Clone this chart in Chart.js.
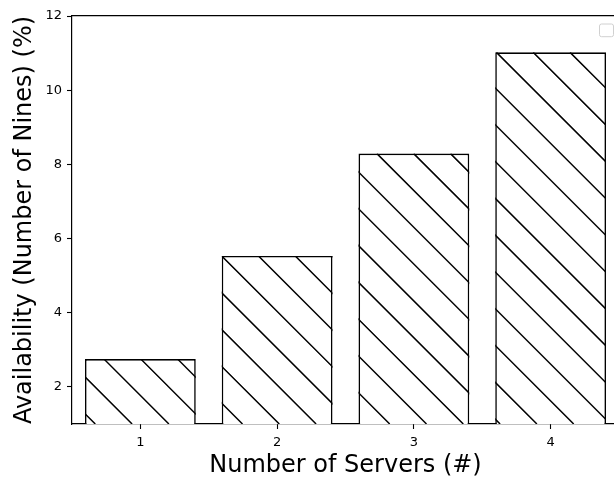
<!DOCTYPE html>
<html>
<head>
<meta charset="utf-8">
<script src="https://cdn.jsdelivr.net/npm/chart.js@4.4.1/dist/chart.umd.min.js"></script>
<style>
  html, body { margin: 0; padding: 0; background: #fff; overflow: hidden; }
  #wrap { width: 630px; height: 484px; }
</style>
</head>
<body>
<div id="wrap"><canvas id="chart" width="630" height="484"></canvas></div>
<script>
// chart data
const servers = ['1', '2', '3', '4'];
const nines = [2.75, 5.53, 8.29, 11.02];
const yTicks = [2, 4, 6, 8, 10, 12];
const xTitle = 'Number of Servers (#)';
const yTitle = 'Availability (Number of Nines) (%)';

const FONT = "'DejaVu Sans', sans-serif";

// draws the "\" hatch inside each bar
const hatchPlugin = {
    id: 'hatch',
    afterDatasetsDraw(chart) {
        const ctx = chart.ctx;
        const area = chart.chartArea;
        const step = 36.8;
        const shift = 2.5;
        chart.getDatasetMeta(0).data.forEach(bar => {
            const left = bar.x - bar.width / 2;
            const right = bar.x + bar.width / 2;
            const top = Math.max(bar.y, area.top);
            const bottom = Math.min(bar.base, area.bottom);
            ctx.save();
            ctx.beginPath();
            ctx.rect(left, top, right - left, bottom - top);
            ctx.clip();
            ctx.strokeStyle = '#000';
            ctx.lineWidth = 1.5;
            ctx.beginPath();
            // lines where x - y = c
            const cMin = left - bottom;
            const cMax = right - top;
            let c = Math.floor((cMin - shift) / step) * step + shift;
            for (; c <= cMax; c += step) {
                ctx.moveTo(top + c, top);
                ctx.lineTo(bottom + c, bottom);
            }
            ctx.stroke();
            ctx.restore();
        });
    }
};

// empty legend frame in the upper right corner
const emptyLegendPlugin = {
    id: 'emptyLegend',
    afterDraw(chart) {
        const ctx = chart.ctx;
        const area = chart.chartArea;
        const x = area.right - 19.5;
        const y = area.top + 8;
        ctx.save();
        ctx.beginPath();
        ctx.roundRect(x, y, 14, 12.7, 2);
        ctx.fillStyle = 'rgba(255,255,255,0.8)';
        ctx.fill();
        ctx.strokeStyle = '#d0d0d0';
        ctx.lineWidth = 1;
        ctx.stroke();
        ctx.restore();
    }
};

new Chart(document.getElementById('chart'), {
    type: 'bar',
    data: {
        labels: servers,
        datasets: [{
            data: nines,
            backgroundColor: '#fff',
            borderColor: '#000',
            borderWidth: 1.6,
            barPercentage: 0.81,
            categoryPercentage: 1
        }]
    },
    options: {
        responsive: false,
        devicePixelRatio: 1,
        animation: false,
        layout: {
            padding: { top: 16, right: 11, left: 0, bottom: 0 }
        },
        plugins: {
            legend: { display: false },
            tooltip: { enabled: false }
        },
        scales: {
            x: {
                type: 'category',
                offset: true,
                z: 1,
                grid: {
                    display: true,
                    drawOnChartArea: false,
                    drawTicks: true,
                    tickLength: 5,
                    tickWidth: 1.1,
                    color: '#000',
                    offset: false
                },
                border: { display: true, color: '#000', width: 1.2 },
                ticks: {
                    color: '#000',
                    font: { family: FONT, size: 13 },
                    padding: 6,
                    maxRotation: 0
                },
                title: {
                    display: true,
                    text: xTitle,
                    color: '#000',
                    font: { family: FONT, size: 24 },
                    padding: { top: 0, bottom: 4 }
                },
                afterFit: s => { s.height = 60; }
            },
            xTop: {
                type: 'linear',
                position: 'top',
                min: 0,
                max: 1,
                z: 1,
                grid: { display: false },
                ticks: { display: false },
                border: { display: true, color: '#000', width: 1.2 },
                afterFit: s => { s.height = 0; }
            },
            y: {
                type: 'linear',
                min: 1,
                max: 12,
                z: 1,
                afterBuildTicks: s => { s.ticks = yTicks.map(v => ({ value: v })); },
                grid: {
                    display: true,
                    drawOnChartArea: false,
                    drawTicks: true,
                    tickLength: 5,
                    tickWidth: 1.1,
                    color: '#000'
                },
                border: { display: true, color: '#000', width: 1.2 },
                ticks: {
                    color: '#000',
                    font: { family: FONT, size: 13 },
                    padding: 5
                },
                title: {
                    display: true,
                    text: yTitle,
                    color: '#000',
                    font: { family: FONT, size: 24 },
                    padding: { top: 10, bottom: 0 }
                },
                afterFit: s => { s.width = 72; }
            }
        }
    },
    plugins: [hatchPlugin, emptyLegendPlugin]
});
</script>
</body>
</html>
